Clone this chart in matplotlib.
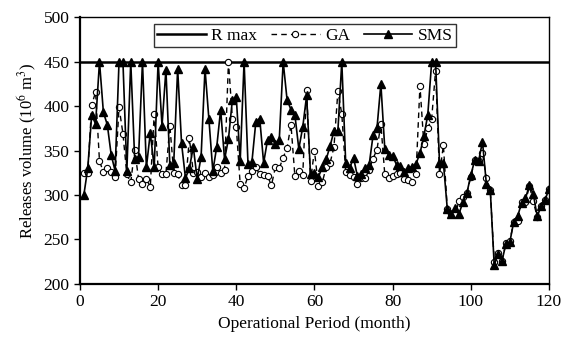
import numpy as np
import matplotlib.pyplot as plt

plt.rcParams['font.family'] = ['Liberation Serif', 'DejaVu Serif']
plt.rcParams['mathtext.fontset'] = 'stix'

# monthly releases (10^6 m^3), months 1..120
months = np.arange(1, 121)
r_max = 450

sms = [300, 330, 390, 380, 450, 393, 379, 345, 327, 450,
       450, 327, 450, 341, 343, 450, 331, 370, 331, 450,
       378, 441, 334, 336, 442, 358, 319, 330, 354, 318,
       343, 442, 385, 327, 354, 396, 340, 363, 407, 410,
       338, 450, 335, 337, 382, 386, 336, 362, 365, 357,
       362, 450, 407, 396, 390, 352, 376, 412, 323, 325,
       320, 331, 340, 355, 372, 372, 450, 336, 330, 342,
       321, 324, 330, 334, 367, 375, 425, 352, 345, 344,
       334, 333, 326, 330, 332, 335, 347, 366, 390, 450,
       450, 336, 336, 284, 279, 285, 279, 292, 302, 322,
       339, 338, 360, 312, 305, 221, 234, 226, 245, 247,
       270, 276, 291, 296, 311, 301, 276, 287, 294, 307]

ga = [325, 325, 401, 416, 338, 326, 330, 326, 320, 399,
      369, 323, 314, 351, 318, 312, 318, 309, 391, 331,
      324, 324, 378, 325, 323, 311, 311, 364, 325, 326,
      320, 325, 320, 322, 332, 325, 328, 450, 386, 377,
      312, 308, 321, 327, 331, 323, 322, 321, 311, 331,
      330, 342, 353, 379, 321, 327, 322, 418, 316, 350,
      310, 314, 331, 336, 354, 417, 391, 326, 322, 320,
      312, 319, 319, 328, 341, 351, 380, 323, 319, 321,
      323, 325, 318, 317, 314, 324, 423, 357, 375, 386,
      440, 323, 356, 284, 279, 278, 293, 298, 302, 320,
      339, 338, 347, 319, 305, 225, 235, 226, 246, 248,
      270, 271, 292, 292, 310, 293, 275, 287, 294, 307]

fig = plt.figure(figsize=(5.63, 3.39), dpi=100)
ax = fig.add_axes([0.142, 0.163, 0.833, 0.786])

ax.axhline(r_max, color='black', linewidth=1.8, label='R max')
ax.plot(months, ga, 'k--', linewidth=1.0, marker='o', markersize=4.5,
        markerfacecolor='white', markeredgecolor='black', markeredgewidth=0.8,
        dashes=(4, 3), label='GA')
ax.plot(months, sms, 'k-', linewidth=1.2, marker='^', markersize=6,
        markerfacecolor='black', markeredgecolor='black', label='SMS')

ax.set_xlim(0, 120)
ax.set_ylim(200, 500)
ax.set_xticks(np.arange(0, 121, 20))
ax.set_yticks(np.arange(200, 501, 50))
ax.tick_params(direction='out', length=4, width=1, labelsize=12.5)
ax.spines['left'].set_linewidth(1.6)
ax.spines['bottom'].set_linewidth(1.6)
ax.spines['top'].set_linewidth(1.0)
ax.spines['right'].set_linewidth(1.0)

ax.set_xlabel('Operational Period (month)', fontsize=12.5, labelpad=4)
ax.set_ylabel('Releases volume (10$^6$ m$^3$)', fontsize=12, labelpad=3)

leg = ax.legend(loc='upper center', bbox_to_anchor=(0.48, 1.0), ncol=3, fontsize=12.5,
                frameon=True, fancybox=False, edgecolor='black', handlelength=2.8,
                columnspacing=0.8, handletextpad=0.3, borderpad=0.2, borderaxespad=0.4)
leg.get_frame().set_linewidth(1.0)

fig.savefig('out.png', dpi=100)
